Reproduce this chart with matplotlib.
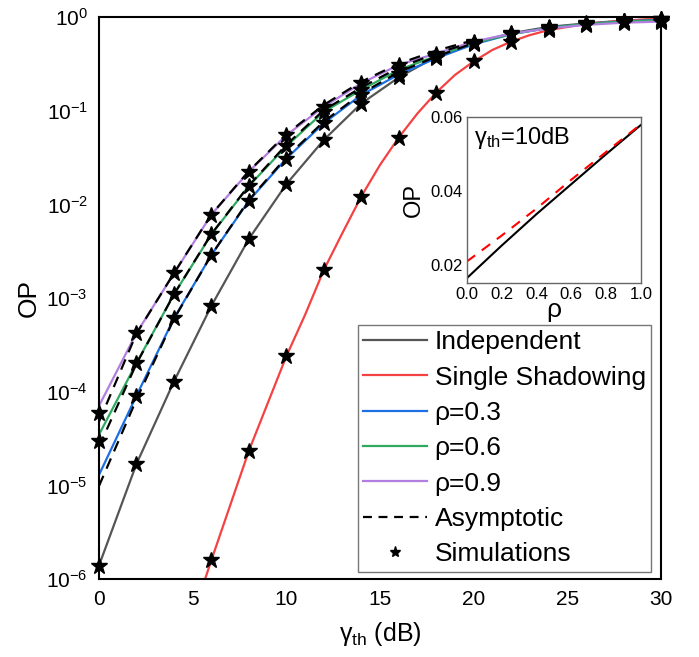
import matplotlib
matplotlib.use("Agg")
import matplotlib.pyplot as plt
from matplotlib.lines import Line2D
import numpy as np

plt.rcParams['font.family'] = ['Liberation Sans', 'DejaVu Sans']
plt.rcParams['mathtext.fontset'] = 'custom'
plt.rcParams['mathtext.rm'] = 'Liberation Sans'
plt.rcParams['mathtext.it'] = 'Liberation Sans:italic'

################################################# Data
snr = [0, 2, 4, 6, 8, 10, 12, 14, 16, 18, 20, 22, 24, 26, 28, 30]
p_indep = [1.4e-6, 1.7e-5, 1.29e-4, 8.3e-4, 4.3e-3, 0.0165, 0.049, 0.12,
           0.228, 0.38, 0.53, 0.675, 0.79, 0.86, 0.92, 0.955]
p_rho03 = [1.3e-5, 9.1e-5, 6.1e-4, 2.9e-3, 0.011, 0.031, 0.074, 0.148,
           0.245, 0.365, 0.515, 0.66, 0.77, 0.85, 0.905, 0.94]
p_rho06 = [3.5e-5, 2.03e-4, 1.1e-3, 4.8e-3, 0.0158, 0.042, 0.098, 0.168,
           0.274, 0.386, 0.53, 0.66, 0.77, 0.85, 0.90, 0.93]
p_rho09 = [7.1e-5, 4.24e-4, 1.84e-3, 7.8e-3, 0.0225, 0.055, 0.111, 0.197,
           0.31, 0.41, 0.55, 0.67, 0.76, 0.83, 0.875, 0.90]

snr_single = [4, 6, 8, 10, 11, 12, 13, 14, 15, 16, 17, 18, 19, 20, 21, 22, 23, 24, 26, 28, 30]
p_single = [1.0e-7, 1.6e-6, 2.35e-5, 2.4e-4, 6.65e-4, 2.0e-3, 5.0e-3, 0.0122, 0.0265,
            0.052, 0.094, 0.157, 0.242, 0.338, 0.448, 0.55, 0.645, 0.73, 0.85, 0.92, 0.97]

snr_asym = [0, 2, 4, 6, 8, 10, 12, 14, 16, 18, 20]
a_rho03 = [9.9e-6, 8.3e-5, 6.0e-4, 2.9e-3, 0.0112, 0.032, 0.077, 0.153, 0.26, 0.38, 0.53]
a_rho06 = [2.6e-5, 2.0e-4, 1.1e-3, 4.85e-3, 0.016, 0.0435, 0.102, 0.178, 0.29, 0.41, 0.55]
a_rho09 = [4.8e-5, 4.2e-4, 1.85e-3, 7.85e-3, 0.0228, 0.0565, 0.116, 0.205, 0.32, 0.44, 0.57]

# simulation points (every 2 dB)
sim_single_snr = [s for s in snr_single if s % 2 == 0 and s >= 6]
sim_single = [p for s, p in zip(snr_single, p_single) if s % 2 == 0 and s >= 6]
sim_snr = [snr, snr[1:], snr, snr, sim_single_snr]
sim_val = [p_indep, p_rho03[1:], [3.0e-5] + p_rho06[1:], [6.0e-5] + p_rho09[1:], sim_single]

# inset: OP vs rho at gamma_th = 10 dB
rho = [0.0, 0.2, 0.4, 0.6, 0.8, 1.0]
op_exact = [0.0164, 0.0252, 0.0337, 0.0418, 0.0499, 0.0578]
op_asym = [0.0209, 0.0279, 0.0352, 0.0430, 0.0505, 0.0580]

################################################# Colours
c_gray = '#555555'
c_red = '#f44242'
c_blue = '#1c6fe3'
c_green = '#2fa860'
c_purple = '#b27ee0'

################################################# Main plot
fig = plt.figure(figsize=(6.99, 6.57), dpi=100)
ax = fig.add_axes([0.1416, 0.1183, 0.804, 0.8554])

lw = 1.6
ax.plot(snr, p_indep, color=c_gray, lw=lw)
ax.plot(snr_single, p_single, color=c_red, lw=lw)
ax.plot(snr, p_rho03, color=c_blue, lw=lw)
ax.plot(snr, p_rho06, color=c_green, lw=lw)
ax.plot(snr, p_rho09, color=c_purple, lw=lw)
for a in (a_rho03, a_rho06, a_rho09):
    ax.plot(snr_asym, a, color='black', lw=lw, ls=(0, (5, 3.5)))
for xs, ys in zip(sim_snr, sim_val):
    ax.plot(xs, ys, ls='none', marker='*', color='black', ms=12, clip_on=False, zorder=5)

ax.set_yscale('log')
ax.set_xlim(0, 30)
ax.set_ylim(1e-6, 1)
ax.set_xticks([0, 5, 10, 15, 20, 25, 30])
ax.set_yticks([1e-6, 1e-5, 1e-4, 1e-3, 1e-2, 1e-1, 1])
ax.minorticks_off()
ax.tick_params(length=0, labelsize=15, pad=8)
for sp in ax.spines.values():
    sp.set_linewidth(1.5)
ax.set_xlabel('γ$_{\\rm th}$ (dB)', fontsize=18, labelpad=8)
ax.set_ylabel('OP', fontsize=19, labelpad=4)

handles = [Line2D([], [], color=c_gray, lw=lw),
           Line2D([], [], color=c_red, lw=lw),
           Line2D([], [], color=c_blue, lw=lw),
           Line2D([], [], color=c_green, lw=lw),
           Line2D([], [], color=c_purple, lw=lw),
           Line2D([], [], color='black', lw=lw, ls=(0, (4, 3))),
           Line2D([], [], color='black', ls='none', marker='*', ms=8)]
labels = ['Independent', 'Single Shadowing', 'ρ=0.3', 'ρ=0.6', 'ρ=0.9',
          'Asymptotic', 'Simulations']
leg = ax.legend(handles, labels, loc='upper left', bbox_to_anchor=(0.461, 0.4525),
                borderaxespad=0, fontsize=19, frameon=True, fancybox=False,
                handlelength=2.4, handletextpad=0.3, labelspacing=0.43,
                borderpad=0.2)
leg.get_frame().set_edgecolor('#555555')
leg.get_frame().set_linewidth(1.0)

################################################# Inset
ins = fig.add_axes([0.6677, 0.5697, 0.2494, 0.2527])
ins.plot(rho, op_exact, color='black', lw=1.5)
ins.plot(rho, op_asym, color='red', lw=1.5, ls=(0, (5, 4)))
ins.set_xlim(0, 1)
ins.set_ylim(0.0152, 0.06)
ins.set_xticks([0, 0.2, 0.4, 0.6, 0.8, 1.0])
ins.set_yticks([0.02, 0.04, 0.06])
ins.xaxis.set_major_formatter(plt.FormatStrFormatter('%.1f'))
ins.yaxis.set_major_formatter(plt.FormatStrFormatter('%.2f'))
ins.tick_params(length=0, labelsize=12, pad=3)
for sp in ins.spines.values():
    sp.set_color('#666666')
    sp.set_linewidth(1.0)
ins.set_xlabel('ρ', fontsize=19, labelpad=-3)
ins.set_ylabel('OP', fontsize=17, labelpad=4)
ins.text(0.04, 0.95, 'γ$_{\\rm th}$=10dB', transform=ins.transAxes,
         fontsize=17, va='top', ha='left')

plt.savefig('out.png', dpi=100)
